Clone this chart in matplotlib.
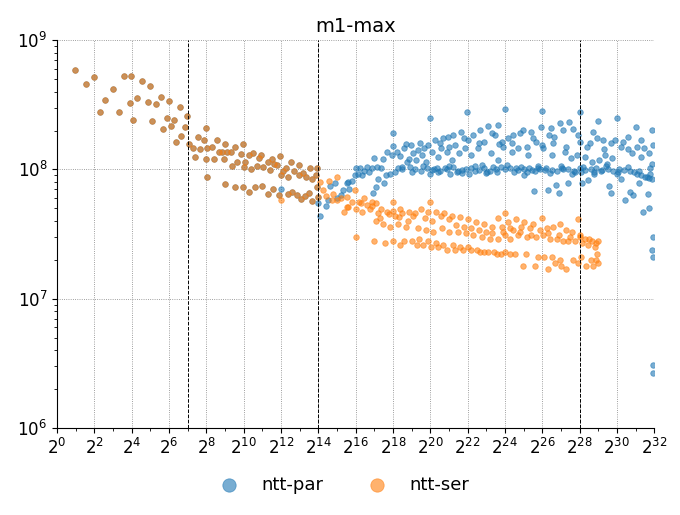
import numpy as np
import matplotlib
matplotlib.use("Agg")
import matplotlib.pyplot as plt
from matplotlib.ticker import LogFormatterSciNotation, NullFormatter

# sizes as log2(n), throughput in millions
common_log2n = [
    0.98, 1.55, 2.00, 2.29, 2.59, 2.98, 3.30, 3.57, 3.98, 3.89, 4.07, 4.30, 4.56,
    4.88, 4.98, 5.07, 5.29, 5.56, 5.66, 5.88, 5.98, 6.09, 6.29, 6.39, 6.56, 6.65,
    6.86, 6.97, 7.07, 7.30, 7.38, 7.56, 7.64, 7.86, 7.97, 7.97, 8.04, 8.05, 8.31,
    8.40, 8.57, 8.66, 8.84, 8.95, 8.99, 8.99, 9.09, 9.31, 9.39, 9.55, 9.55, 9.66,
    9.88, 9.97, 9.98, 10.02, 10.07, 10.29, 10.30, 10.38, 10.52, 10.59, 10.70,
    10.84, 10.95, 10.99, 11.06, 11.31, 11.31, 11.41, 11.54, 11.61, 11.59, 11.77,
    11.88, 11.97, 12.00, 12.09, 12.27, 12.36, 12.38, 12.56, 12.58, 12.72, 12.84,
    12.95, 12.98, 13.08, 13.20, 13.29, 13.34, 13.52, 13.57, 13.65, 13.68, 13.88,
    13.95, 13.95, 13.97,
]
common_mops = [
    593, 462, 515, 279, 344, 416, 277, 524, 524, 327, 242, 357, 480,
    335, 440, 237, 320, 361, 206, 252, 337, 215, 241, 164, 302, 182,
    212, 260, 156, 146, 124, 179, 143, 168, 208, 120, 87, 146, 148,
    121, 169, 136, 136, 120, 157, 77, 136, 136, 106, 150, 73, 114,
    131, 157, 73, 105, 115, 129, 67, 101, 133, 73, 107,
    122, 129, 74, 104, 65, 115, 99, 120, 111, 70, 108,
    63, 127, 90, 98, 102, 65, 88, 114, 67, 98, 63,
    108, 90, 59, 94, 62, 88, 66, 102, 84, 57, 90,
    102, 73, 61,
]

par_log2n = [
    12.00, 14.00, 14.07, 14.42, 14.50, 14.63, 14.92, 15.00, 15.20, 15.34, 15.61, 15.52,
    15.65, 15.79, 16.01, 15.97, 16.11, 16.24, 16.36, 16.47, 16.60, 16.72, 16.86,
    16.95, 16.97, 17.08, 17.13, 17.22, 17.35, 17.44, 17.54, 17.62, 17.67, 17.85,
    17.94, 17.99, 18.02, 18.11, 18.20, 18.29, 18.38, 18.47, 18.58, 18.69, 18.74,
    18.86, 18.97, 19.09, 19.22, 19.33, 19.45, 19.54, 19.68, 19.76, 19.86, 19.99,
    20.00, 20.08, 20.11, 20.26, 20.35, 20.43, 20.58, 20.70, 20.79, 20.88, 20.97,
    21.06, 21.15, 21.24, 21.33, 21.42, 21.54, 21.65, 21.72, 21.86, 21.95, 22.01,
    22.08, 22.19, 22.31, 22.40, 22.54, 22.67, 22.76, 22.90, 23.03, 23.11, 23.26,
    23.38, 23.47, 23.62, 23.69, 23.65, 23.83, 24.01, 24.10, 24.19, 24.37, 24.46,
    24.58, 24.72, 24.87, 24.99, 25.04, 25.17, 25.26, 25.40, 25.47, 25.58, 25.65,
    25.79, 25.94, 26.01, 26.06, 26.15, 26.29, 26.37, 26.47, 26.54, 26.65, 26.72,
    26.90, 26.96, 27.05, 27.13, 27.22, 27.37, 27.44, 27.55, 27.67, 27.76, 27.85,
    28.03, 28.03, 28.08, 28.15, 28.30, 28.44, 28.56, 28.68, 28.79, 28.92, 29.01,
    29.05, 29.15, 29.28, 29.37, 29.46, 29.58, 29.69, 29.76, 29.90, 29.99, 30.08,
    30.22, 30.35, 30.44, 30.58, 30.71, 30.80, 30.89, 31.01, 31.06, 31.18, 31.29,
    31.42, 31.47, 31.60, 31.69, 31.72, 31.78, 31.87, 31.90, 31.96, 31.96, 31.90,
    31.96, 31.96, 31.96,
    # band near 1e8
    18.5, 18.9, 19.2, 19.5, 19.8, 20.2, 20.5, 20.9, 21.2, 21.5, 21.9, 22.2, 22.6,
    22.9, 23.2, 23.5, 23.8, 24.0, 24.3, 24.7, 25.0, 25.3, 25.6, 25.9, 26.2, 26.5,
    26.8, 27.1, 27.4, 27.7, 28.0, 28.3, 28.6, 28.9, 29.2, 29.5, 29.8, 30.1, 30.4,
    30.7, 30.9, 31.1, 31.3, 31.5, 31.7, 31.9,
    19.0, 19.6, 20.4, 21.0, 21.7, 22.4, 23.0, 23.6, 24.5, 25.2, 25.8, 26.4, 27.0,
    27.6, 28.2, 28.8, 29.4, 30.0, 30.6, 31.2, 31.8,
    # upper cloud
    20.5, 21.0, 21.8, 22.6, 23.3, 23.9, 24.4, 24.8, 25.5, 26.0, 26.6, 27.3, 27.9,
    28.4, 28.7, 29.3, 29.7, 30.2, 30.6, 31.3, 31.7,
]
par_mops = [
    71, 55, 44, 52, 58, 74, 79, 60, 63, 69, 80, 78,
    71, 81, 103, 90, 93, 102, 90, 97, 105, 95, 103,
    66, 122, 73, 105, 84, 103, 120, 79, 90, 137, 93,
    129, 190, 153, 95, 137, 103, 127, 105, 147, 157, 115,
    120, 154, 133, 118, 141, 161, 129, 146, 115, 154, 252,
    93, 99, 137, 169, 102, 125, 146, 174, 102, 137, 179,
    93, 118, 184, 154, 96, 133, 195, 99, 146, 276, 169,
    92, 129, 184, 97, 146, 201, 108, 164, 96, 217, 133,
    105, 184, 118, 156, 220, 164, 293, 108, 174, 137, 184,
    103, 146, 105, 201, 90, 150, 129, 195, 99, 68, 164,
    102, 214, 282, 146, 99, 69, 184, 208, 129, 179, 76,
    66, 227, 103, 201, 137, 79, 231, 122, 205, 96, 129,
    279, 164, 96, 78, 125, 83, 159, 115, 96, 174, 237,
    118, 97, 169, 129, 111, 75, 66, 122, 169, 248, 96,
    85, 164, 58, 179, 67, 133, 63, 214, 150, 78, 125,
    47, 146, 88, 65, 50, 102, 111, 201, 154, 30, 24,
    21, 3.07, 2.66,
    101, 104, 100, 98, 103, 101, 97, 100, 104, 98, 101, 103, 99,
    102, 98, 101, 104, 100, 102, 99, 101, 103, 98, 100, 102, 99,
    97, 101, 100, 98, 102, 99, 101, 103, 99, 100, 97, 101, 99,
    98, 95, 92, 90, 88, 86, 84,
    96, 106, 95, 106, 94, 106, 94, 96, 95, 96, 106, 94, 106,
    93, 105, 93, 106, 93, 104, 97, 93,
    160, 150, 175, 160, 190, 150, 160, 190, 175, 155, 160, 150, 185,
    150, 195, 145, 160, 150, 145, 170, 135,
]

ser_log2n = [
    12.02, 14.09, 14.24, 14.40, 14.59, 14.72, 14.80, 14.99, 15.02, 15.20, 15.38, 15.52,
    15.52, 15.61, 15.79, 15.97, 16.01, 16.01, 16.18, 16.30, 16.33, 16.47, 16.60,
    16.77, 16.86, 16.90, 17.00, 17.08, 17.10, 17.22, 17.30, 17.36, 17.49, 17.58,
    17.67, 17.80, 17.85, 17.99, 18.00, 18.02, 18.11, 18.26, 18.30, 18.38, 18.40,
    18.51, 18.61, 18.71, 18.80, 18.86, 19.01, 19.09, 19.20, 19.27, 19.36, 19.40,
    19.50, 19.63, 19.70, 19.76, 19.90, 19.90, 19.99, 20.04, 20.10, 20.17, 20.29,
    20.30, 20.43, 20.60, 20.61, 20.70, 20.75, 20.88, 21.00, 21.01, 21.15, 21.20,
    21.33, 21.40, 21.47, 21.59, 21.60, 21.77, 21.80, 21.90, 22.00, 22.04, 22.19,
    22.20, 22.31, 22.45, 22.50, 22.60, 22.67, 22.76, 22.90, 22.90, 23.00, 23.11,
    23.20, 23.30, 23.33, 23.40, 23.56, 23.62, 23.65, 23.80, 23.83, 23.90, 24.01,
    24.01, 24.19, 24.28, 24.30, 24.46, 24.58, 24.72, 24.80, 24.87, 25.04, 25.17,
    25.35, 25.40, 25.53, 25.65, 25.90, 25.97, 26.06, 26.24, 26.30, 26.42, 26.60,
    26.78, 26.90, 26.96, 27.13, 27.26, 27.40, 27.50, 27.58, 27.76, 27.94, 28.00,
    28.03, 28.15, 28.30, 28.48, 28.50, 28.66, 28.83, 28.90, 29.01,
    # lowest band
    24.01, 24.28, 24.55, 24.99, 25.15, 25.62, 25.80, 26.10, 26.33, 26.50, 26.70,
    26.96, 27.00, 27.26, 27.67, 27.90, 28.10, 28.35, 28.63, 28.70, 28.90, 28.96,
    29.00,
]
ser_mops = [
    58, 80, 69, 62, 81, 58, 65, 87, 58, 60, 47, 51,
    61, 51, 56, 69, 49, 30, 56, 55, 47, 60, 53,
    49, 56, 52, 28, 40, 55, 46, 42, 49, 38, 27,
    47, 45, 36, 56, 48, 28, 44, 38, 43, 26, 49,
    46, 28, 36, 40, 47, 28, 44, 46, 26, 35, 29,
    49, 26, 42, 34, 47, 28, 56, 25, 40, 33, 47,
    27, 25, 44, 35, 26, 46, 24, 41, 33, 44, 26,
    24, 37, 33, 43, 25, 24, 36, 32, 25, 41, 24,
    35, 31, 39, 24, 34, 23, 30, 38, 23, 33, 23,
    29, 32, 36, 23, 22, 29, 42, 22, 36, 33, 46,
    31, 39, 29, 35, 34, 41, 31, 33, 36, 39, 30,
    35, 31, 38, 30, 34, 42, 31, 35, 32, 29, 36,
    29, 31, 38, 28, 34, 28, 30, 33, 28, 41, 30,
    31, 27, 29, 26, 29, 28, 25, 27, 28,
    23, 22, 22, 18, 22, 18, 21, 21, 17, 21, 19,
    20, 18, 17, 20, 19, 21, 18, 20, 18, 20, 22,
    19,
]

x_par = 2.0 ** np.array(common_log2n + par_log2n)
y_par = np.array(common_mops + par_mops) * 1e6
x_ser = 2.0 ** np.array(common_log2n + ser_log2n)
y_ser = np.array(common_mops + ser_mops) * 1e6

fig = plt.figure(figsize=(6.8, 5.15), dpi=100)
ax = fig.add_axes([0.084, 0.169, 0.878, 0.753])

ax.scatter(x_par, y_par, s=16, color="tab:blue", alpha=0.6, linewidths=0.6, label="ntt-par")
ax.scatter(x_ser, y_ser, s=16, color="tab:orange", alpha=0.6, linewidths=0.6, label="ntt-ser")

for e in [7, 14, 28]:
    ax.axvline(2.0 ** e, color="black", linestyle="--", linewidth=0.7, zorder=3)

ax.set_xscale("log", base=2)
ax.set_yscale("log")
ax.set_xlim(2.0 ** 0, 2.0 ** 32)
ax.set_ylim(1e6, 1e9)
ax.set_xticks([2.0 ** k for k in range(0, 33, 2)])
ax.set_xticks([2.0 ** k for k in range(1, 33, 2)], minor=True)
ax.xaxis.set_major_formatter(LogFormatterSciNotation(base=2))
ax.xaxis.set_minor_formatter(NullFormatter())
ax.tick_params(labelsize=12)

ax.grid(True, which="major", color="gray", linestyle=":", linewidth=0.6)
ax.set_axisbelow(True)
ax.spines["top"].set_visible(False)
ax.spines["right"].set_visible(False)

ax.set_title("m1-max", fontsize=14)

fig.legend(
    handles=ax.collections,
    labels=["ntt-par", "ntt-ser"],
    loc="center",
    bbox_to_anchor=(0.5, 0.058),
    ncol=2,
    frameon=False,
    markerscale=2.4,
    fontsize=13,
    columnspacing=2.0,
)

plt.savefig("out.png")
